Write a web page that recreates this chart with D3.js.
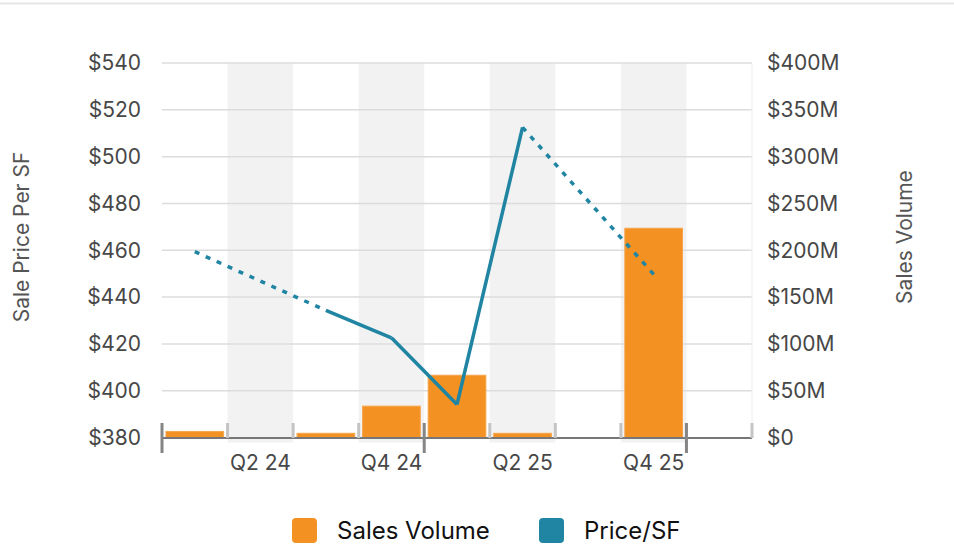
<!DOCTYPE html>
<html lang="en">
<head>
  <meta charset="UTF-8">
  <title>Sales Volume and Price/SF</title>
  <script src="https://d3js.org/d3.v7.min.js"></script>
  <style>
    body {
      margin: 0;
      background: #fff;
    }

    svg {
      display: block;
      font-family: Inter, "Noto Sans", sans-serif;
    }

    .tick-label {
      font-size: 21px;
      fill: #474747;
    }

    .axis-title {
      font-size: 21px;
      fill: #555;
    }

    .legend text {
      font-size: 24px;
      fill: #111;
    }
  </style>
</head>
<body>

  <svg id="chart" width="954" height="560"></svg>

  <script>
    // Quarters along the bottom
    const quarters = ["Q1 24", "Q2 24", "Q3 24", "Q4 24", "Q1 25", "Q2 25", "Q3 25", "Q4 25", "Q1 26"];
    const shownLabels = ["Q2 24", "Q4 24", "Q2 25", "Q4 25"];

    // Sales volume in $M (null = no sales)
    const salesVolume = [6.5, null, 4.5, 33.5, 66.5, 4.5, null, 223.5, null];
    // Price per SF (null = no data)
    const pricePerSF = [459.4, null, 434.3, 422.6, 394.1, 512.5, null, 449.7, null];

    const priceTicks = [380, 400, 420, 440, 460, 480, 500, 520, 540];
    const volumeTicks = [0, 50, 100, 150, 200, 250, 300, 350, 400];

    const orange = "#f39122";
    const teal = "#2085a3";

    const svg = d3.select("#chart");
    const plotLeft = 162, plotRight = 752, plotTop = 63, plotBottom = 437.5;

    // top divider
    svg.append("line")
      .attr("x1", 0).attr("x2", 954)
      .attr("y1", 3.5).attr("y2", 3.5)
      .attr("stroke", "#e6e6e6")
      .attr("stroke-width", 2);

    const x = d3.scaleBand().domain(quarters).range([plotLeft, plotRight]);
    const xBar = d3.scaleBand().domain(quarters).range([plotLeft, plotRight])
      .paddingInner(0.12).paddingOuter(0.06);

    const yPrice = d3.scaleLinear().domain([380, 540]).range([plotBottom, plotTop]);
    const yVol = d3.scaleLinear().domain([0, 400]).range([plotBottom, plotTop]);

    // alternate column shading
    svg.append("g")
      .selectAll("rect")
      .data(quarters.filter((q, i) => i % 2 === 1))
      .join("rect")
      .attr("x", d => x(d))
      .attr("y", plotTop)
      .attr("width", x.bandwidth())
      .attr("height", plotBottom - plotTop + 5)
      .attr("fill", "#f2f2f2");

    // grid lines
    svg.append("g")
      .selectAll("line")
      .data(priceTicks.slice(1))
      .join("line")
      .attr("x1", plotLeft).attr("x2", plotRight)
      .attr("y1", d => yPrice(d)).attr("y2", d => yPrice(d))
      .attr("stroke", "#dcdcdc")
      .attr("stroke-width", 1.5);

    svg.append("line")
      .attr("x1", plotRight).attr("x2", plotRight)
      .attr("y1", plotTop).attr("y2", plotBottom)
      .attr("stroke", "#ececec")
      .attr("stroke-width", 1);

    // bars
    const barData = quarters.map((q, i) => ({ q, v: salesVolume[i] })).filter(d => d.v != null);
    svg.append("g")
      .selectAll("rect")
      .data(barData)
      .join("rect")
      .attr("x", d => xBar(d.q))
      .attr("y", d => yVol(d.v))
      .attr("width", xBar.bandwidth())
      .attr("height", d => yVol(0) - yVol(d.v))
      .attr("fill", orange)
      .attr("stroke", "#f6a54d")
      .attr("stroke-width", 1);

    // price line: solid between neighbours, dotted across gaps
    const pts = quarters.map((q, i) => ({ q, i, v: pricePerSF[i] })).filter(d => d.v != null);
    const px = d => x(d.q) + x.bandwidth() / 2;
    const line = d3.line().x(px).y(d => yPrice(d.v));

    const segments = [];
    for (let k = 1; k < pts.length; k++) {
      segments.push({ a: pts[k - 1], b: pts[k], gap: pts[k].i - pts[k - 1].i > 1 });
    }

    svg.append("g")
      .selectAll("path")
      .data(segments)
      .join("path")
      .attr("d", d => line([d.a, d.b]))
      .attr("fill", "none")
      .attr("stroke", teal)
      .attr("stroke-width", 3.5)
      .attr("stroke-linejoin", "round")
      .attr("stroke-dasharray", d => d.gap ? "5,7" : null);

    // bottom axis
    const axisY = plotBottom + 0.5;
    svg.append("line")
      .attr("x1", plotLeft).attr("x2", plotRight)
      .attr("y1", axisY).attr("y2", axisY)
      .attr("stroke", "#777")
      .attr("stroke-width", 2);

    const boundaries = quarters.map(q => ({ xpos: x(q), major: q.startsWith("Q1") }));
    boundaries.push({ xpos: plotRight, major: false });

    svg.append("g")
      .selectAll("line")
      .data(boundaries)
      .join("line")
      .attr("x1", d => d.xpos).attr("x2", d => d.xpos)
      .attr("y1", 423)
      .attr("y2", d => d.major ? 453 : axisY)
      .attr("stroke", d => d.major ? "#858585" : "#c4c4c4")
      .attr("stroke-width", 3);

    svg.append("g")
      .selectAll("text")
      .data(shownLabels)
      .join("text")
      .attr("class", "tick-label")
      .attr("x", d => x(d) + x.bandwidth() / 2)
      .attr("y", 463)
      .attr("dy", "0.35em")
      .attr("text-anchor", "middle")
      .text(d => d);

    // left axis labels
    svg.append("g")
      .selectAll("text")
      .data(priceTicks)
      .join("text")
      .attr("class", "tick-label")
      .attr("x", 141)
      .attr("y", d => yPrice(d))
      .attr("dy", "0.35em")
      .attr("text-anchor", "end")
      .text(d => "$" + d);

    // right axis labels
    svg.append("g")
      .selectAll("text")
      .data(volumeTicks)
      .join("text")
      .attr("class", "tick-label")
      .attr("x", 767)
      .attr("y", d => yVol(d))
      .attr("dy", "0.35em")
      .attr("text-anchor", "start")
      .text(d => d === 0 ? "$0" : "$" + d + "M");

    // axis titles
    svg.append("text")
      .attr("class", "axis-title")
      .attr("transform", "translate(22,237) rotate(-90)")
      .attr("dy", "0.35em")
      .attr("text-anchor", "middle")
      .text("Sale Price Per SF");

    svg.append("text")
      .attr("class", "axis-title")
      .attr("transform", "translate(905,237) rotate(-90)")
      .attr("dy", "0.35em")
      .attr("text-anchor", "middle")
      .text("Sales Volume");

    // legend
    const legendItems = [
      { label: "Sales Volume", color: orange, x: 292 },
      { label: "Price/SF", color: teal, x: 539 }
    ];
    const legend = svg.append("g").attr("class", "legend");
    const item = legend.selectAll("g")
      .data(legendItems)
      .join("g")
      .attr("transform", d => `translate(${d.x},518)`);

    item.append("rect")
      .attr("width", 25)
      .attr("height", 25)
      .attr("rx", 4)
      .attr("fill", d => d.color);

    item.append("text")
      .attr("x", 45)
      .attr("y", 13)
      .attr("dy", "0.35em")
      .text(d => d.label);
  </script>

</body>
</html>
